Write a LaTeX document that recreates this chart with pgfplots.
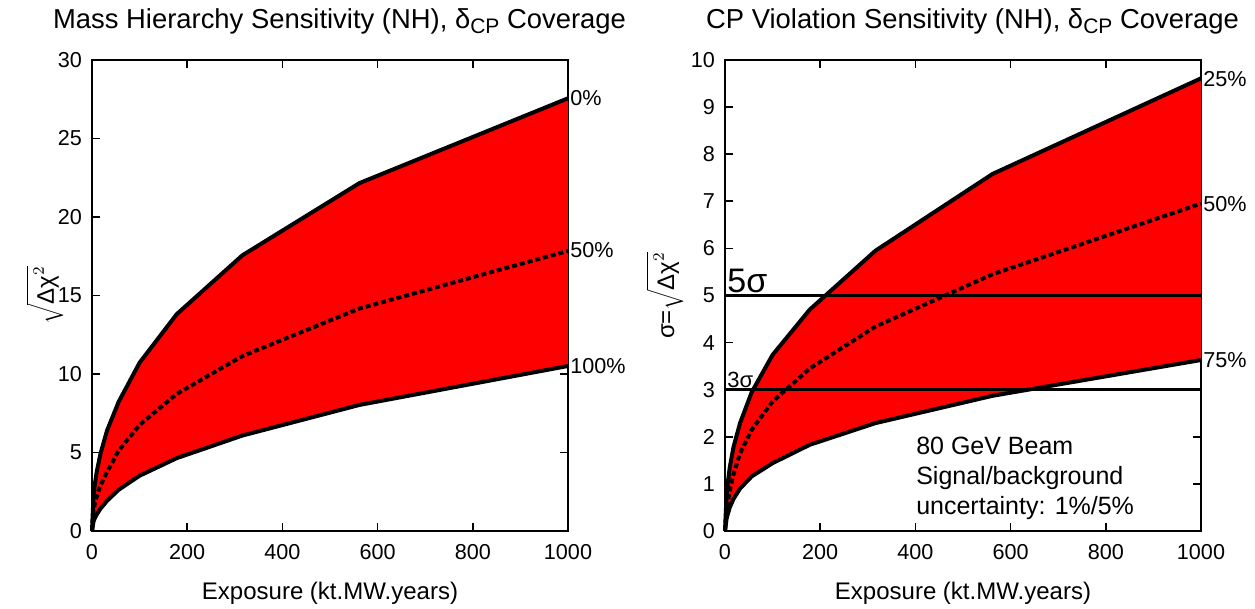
\documentclass[border=0pt]{standalone}
\usepackage{pgfplots}
\pgfplotsset{compat=1.18}
\usepackage{fontspec}
\setmainfont{Liberation Sans}
\begin{document}
\begin{tikzpicture}
\useasboundingbox (0,0) rectangle (627.5pt,304.5pt);
\pgfplotsset{myax/.style={
  scale only axis, width=238pt, height=235.5pt,
  xmin=0, xmax=1000, xtick={0,200,...,1000},
  tick align=inside, major tick length=4pt,
  axis line style={line width=1pt},
  every tick/.style={line width=0.8pt, black},
  tick label style={font=\fontsize{10.8}{12}\selectfont},
  xticklabel style={yshift=-3pt},
  yticklabel style={xshift=-1.5pt},
  /pgf/number format/assume math mode=true,
  /pgf/number format/1000 sep={},
  clip=false,
  title style={font=\fontsize{13.7}{15}\selectfont, at={(axis description cs:0.52,1.081)}, anchor=center, yshift=-6pt},
  xlabel style={font=\fontsize{12}{14}\selectfont, at={(axis description cs:0.5,-0.132)}, anchor=center},
  ylabel style={font=\fontsize{12}{14}\selectfont, anchor=center},
  xlabel={Exposure (kt.MW.years)},
}}
\begin{axis}[myax, at={(46pt,39pt)}, anchor=south west,
  ymin=0, ymax=30, ytick={0,5,...,30},
  title={Mass Hierarchy Sensitivity (NH), δ\raisebox{-0.35ex}{\fontsize{10.5}{12}\selectfont CP} Coverage},
  ylabel={$\sqrt{\mbox{Δχ}^{2}}$},
  ylabel style={at={(axis description cs:-0.099,0.5)}},
]
\addplot[fill=red, draw=none] coordinates {
 (0,0) (3.16,2.23) (5.62,2.9) (10,3.78) (17.8,4.92) (31.6,6.4) (56.2,8.24) (100,10.72) (178,13.81) (316,17.56) (562,22.16) (1000,27.56)
 (1000,10.51) (562,8.03) (316,6.08) (178,4.64) (100,3.52) (56.2,2.63) (31.6,1.92) (17.8,1.42) (10,1.05) (5.62,0.8) (3.16,0.6) (0,0)} -- cycle;
\addplot[black, line width=2pt] coordinates {
 (0,0) (3.16,2.23) (5.62,2.9) (10,3.78) (17.8,4.92) (31.6,6.4) (56.2,8.24) (100,10.72) (178,13.81) (316,17.56) (562,22.16) (1000,27.56)};
\addplot[black, line width=2pt] coordinates {
 (0,0) (3.16,0.6) (5.62,0.8) (10,1.05) (17.8,1.42) (31.6,1.92) (56.2,2.63) (100,3.52) (178,4.64) (316,6.08) (562,8.03) (1000,10.51)};
\addplot[black, line width=2pt, dash pattern=on 2.5pt off 1.5pt] coordinates {
 (0,0) (3.16,1.3) (5.62,1.7) (10,2.2) (17.8,2.9) (31.6,3.75) (56.2,5.13) (100,6.76) (178,8.73) (316,11.14) (562,14.17) (1000,17.84)};
\node[anchor=west, inner sep=1pt, font=\fontsize{10.8}{12}\selectfont] at (axis cs:1000,27.6) {0\%};
\node[anchor=west, inner sep=1pt, font=\fontsize{10.8}{12}\selectfont] at (axis cs:1000,17.9) {50\%};
\node[anchor=west, inner sep=1pt, font=\fontsize{10.8}{12}\selectfont] at (axis cs:1000,10.5) {100\%};
\end{axis}
\begin{axis}[myax, at={(362.5pt,39pt)}, anchor=south west,
  ymin=0, ymax=10, ytick={0,1,...,10},
  title={CP Violation Sensitivity (NH), δ\raisebox{-0.35ex}{\fontsize{10.5}{12}\selectfont CP} Coverage},
  ylabel={σ=$\sqrt{\mbox{Δχ}^{2}}$},
  ylabel style={at={(axis description cs:-0.126,0.5)}},
]
\addplot[fill=red, draw=none] coordinates {
 (0,0) (3.16,0.75) (5.62,1.0) (10,1.35) (17.8,1.78) (31.6,2.29) (56.2,2.95) (100,3.74) (178,4.70) (316,5.95) (562,7.58) (1000,9.61)
 (1000,3.63) (562,2.87) (316,2.29) (178,1.83) (100,1.44) (56.2,1.16) (31.6,0.9) (17.8,0.68) (10,0.5) (5.62,0.35) (3.16,0.25) (0,0)} -- cycle;
\addplot[black, line width=2pt] coordinates {
 (0,0) (3.16,0.75) (5.62,1.0) (10,1.35) (17.8,1.78) (31.6,2.29) (56.2,2.95) (100,3.74) (178,4.70) (316,5.95) (562,7.58) (1000,9.61)};
\addplot[black, line width=2pt] coordinates {
 (0,0) (3.16,0.25) (5.62,0.35) (10,0.5) (17.8,0.68) (31.6,0.9) (56.2,1.16) (100,1.44) (178,1.83) (316,2.29) (562,2.87) (1000,3.63)};
\addplot[black, line width=2pt, dash pattern=on 2.5pt off 1.5pt] coordinates {
 (0,0) (3.16,0.45) (5.62,0.6) (10,0.85) (17.8,1.2) (31.6,1.65) (56.2,2.15) (100,2.75) (178,3.45) (316,4.34) (562,5.45) (1000,6.95)};
\addplot[black, line width=1.3pt] coordinates {(0,5) (1000,5)};
\addplot[black, line width=1.3pt] coordinates {(0,3) (1000,3)};
\node[anchor=south west, inner sep=1pt, font=\fontsize{17}{18}\selectfont] at (axis cs:0,5) {5σ};
\node[anchor=south west, inner sep=1pt, font=\fontsize{11}{12}\selectfont] at (axis cs:0,3) {3σ};
\node[anchor=west, inner sep=1pt, font=\fontsize{10.8}{12}\selectfont] at (axis cs:1000,9.6) {25\%};
\node[anchor=west, inner sep=1pt, font=\fontsize{10.8}{12}\selectfont] at (axis cs:1000,6.95) {50\%};
\node[anchor=west, inner sep=1pt, font=\fontsize{10.8}{12}\selectfont] at (axis cs:1000,3.62) {75\%};
\node[anchor=north west, inner sep=0pt, align=left, font=\fontsize{12.5}{15}\selectfont] at (axis cs:401,2.0) {80 GeV Beam\\Signal/background\\uncertainty: 1\%/5\%};
\end{axis}
\end{tikzpicture}
\end{document}
